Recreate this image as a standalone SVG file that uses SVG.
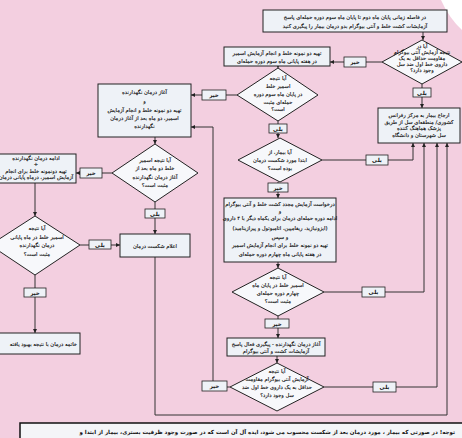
<svg xmlns="http://www.w3.org/2000/svg" width="462" height="438" viewBox="0 0 462 438">
<style>
.box{fill:#eef2f7;stroke:#222;stroke-width:1}
.lbl{fill:#eef2f7;stroke:#222;stroke-width:0.8}
.dia{fill:#f7f8fb;stroke:#222;stroke-width:1}
.t{font-family:"DejaVu Sans",sans-serif;font-size:5.2px;text-anchor:middle;fill:#111;stroke:#111;stroke-width:0.15;direction:rtl}
.tl{font-family:"DejaVu Sans",sans-serif;font-size:5.5px;font-weight:bold;text-anchor:middle;fill:#111;direction:rtl}
.conn{fill:none;stroke:#333;stroke-width:1}
</style>
<defs>
<marker id="ah" viewBox="0 0 6 6" refX="6" refY="3" markerWidth="4" markerHeight="4" orient="auto"><path d="M0,0L6,3L0,6z" fill="#222"/></marker>
</defs>
<rect x="0" y="0" width="462" height="438" fill="#f3cfe0"/>
<path d="M441,0 Q449,18 462,30 L462,0 Z" fill="#ffffff"/>

<g id="connectors" class="conn" marker-end="url(#ah)">
<path d="M423,32 V40"/>
<path d="M382,62 H330"/>
<path d="M422,84 V108"/>
<path d="M278,66 V68"/>
<path d="M237,95 H191"/>
<path d="M278,121 V138"/>
<path d="M322,160 H413 V143"/>
<path d="M278,182 V198"/>
<path d="M278,262 V268"/>
<path d="M324,292 H424 V143"/>
<path d="M278,316 V338"/>
<path d="M277,356 V363"/>
<path d="M324,387 H437 V143"/>
<path d="M230,387 H213 V127 H191"/>
<path d="M155,137 V144"/>
<path d="M112,173 H76"/>
<path d="M155,202 V234"/>
<path d="M35,183 V216"/>
<path d="M80,245 H120"/>
<path d="M35,275 V333"/>
<path d="M155,257 V415 H447 V143"/>
</g>

<g id="n_top">
<rect class="box" x="263" y="10" width="184" height="22"/>
<text class="t" x="355" y="19" font-size="5.8">در فاصله زمانی پایان ماه دوم تا پایان ماه سوم دوره حمله‌ای پاسخ</text>
<text class="t" x="355" y="28" font-size="5.8">آزمایشات کشت خلط و آنتی بیوگرام بدو درمان بیمار را پیگیری کنید</text>
</g>

<g id="n_d1">
<polygon class="dia" points="422,40 462,62 422,84 382,62"/>
<text class="t" x="422" y="48" font-size="4.6">آیا در</text>
<text class="t" x="422" y="54" font-size="4.6">نتیجه آزمایش آنتی بیوگرام</text>
<text class="t" x="422" y="60" font-size="4.6">مقاومت حداقل به یک</text>
<text class="t" x="422" y="66" font-size="4.6">داروی خط اول ضد سل</text>
<text class="t" x="422" y="72" font-size="4.6">وجود دارد؟</text>
</g>

<g id="n_b2">
<rect class="box" x="224" y="47" width="106" height="19"/>
<text class="t" x="277" y="55">تهیه دو نمونه خلط و انجام آزمایش اسمیر</text>
<text class="t" x="277" y="62.5">در هفته پایانی ماه سوم دوره حمله‌ای</text>
</g>

<g id="n_d2">
<polygon class="dia" points="278,68 318,95 278,121 237,95"/>
<text class="t" x="278" y="80">آیا نتیجه</text>
<text class="t" x="278" y="88">اسمیر خلط</text>
<text class="t" x="278" y="96">در پایان ماه سوم دوره</text>
<text class="t" x="278" y="104">حمله‌ای مثبت</text>
<text class="t" x="278" y="111">است؟</text>
</g>

<g id="n_b3">
<rect class="box" x="98" y="84" width="93" height="53"/>
<text class="t" x="144.5" y="94" font-size="5.5">آغاز درمان نگهدارنده</text>
<text class="t" x="144.5" y="103" font-size="5.5">و</text>
<text class="t" x="144.5" y="112" font-size="5.5">تهیه دو نمونه خلط و انجام آزمایش</text>
<text class="t" x="144.5" y="120" font-size="5.5">اسمیر، دو ماه بعد از آغاز درمان</text>
<text class="t" x="144.5" y="128" font-size="5.5">نگهدارنده</text>
</g>

<g id="n_d3">
<polygon class="dia" points="155,144 198,173 155,202 112,173"/>
<text class="t" x="155" y="162">آیا نتیجه اسمیر</text>
<text class="t" x="155" y="170">خلط دو ماه بعد از</text>
<text class="t" x="155" y="179">آغاز درمان نگهدارنده</text>
<text class="t" x="155" y="187">مثبت است؟</text>
</g>

<g id="n_b4">
<rect class="box" x="-10" y="154" width="86" height="29"/>
<text class="t" x="36" y="160" font-size="4.8">ادامه درمان نگهدارنده</text>
<text class="t" x="36" y="166" font-size="4.8">+</text>
<text class="t" x="36" y="172.5" font-size="4.8">تهیه دونمونه خلط برای انجام</text>
<text class="t" x="36" y="179" font-size="4.8">آزمایش اسمیر، درماه پایانی درمان</text>
</g>

<g id="n_d7">
<polygon class="dia" points="35,216 80,245 35,275 -10,245"/>
<text class="t" x="37" y="230">آیا نتیجه</text>
<text class="t" x="37" y="239">اسمیر خلط در ماه پایانی</text>
<text class="t" x="37" y="247">درمان نگهدارنده</text>
<text class="t" x="37" y="256">مثبت است؟</text>
</g>

<g id="n_b5">
<rect class="box" x="120" y="234" width="70" height="23"/>
<text class="t" x="155" y="248" font-size="5.6">اعلام شکست درمان</text>
</g>

<g id="n_b8">
<rect class="box" x="-10" y="333" width="90" height="21"/>
<text class="t" x="77" y="346" font-size="5.8" style="text-anchor:start">خاتمه درمان با نتیجه بهبود یافته</text>
</g>

<g id="n_b6">
<rect class="box" x="378" y="108" width="82" height="35"/>
<text class="t" x="419" y="117">ارجاع بیمار به مرکز رفرانس</text>
<text class="t" x="419" y="123.5">کشوری/ منطقه‌ای سل از طریق</text>
<text class="t" x="419" y="130">پزشک هماهنگ کننده</text>
<text class="t" x="419" y="136.5">سل شهرستان و دانشگاه</text>
</g>

<g id="n_d4">
<polygon class="dia" points="280,138 322,160 280,182 238,160"/>
<text class="t" x="280" y="154">آیا بیمار، از</text>
<text class="t" x="280" y="162">ابتدا مورد شکست درمان</text>
<text class="t" x="280" y="170">بوده است؟</text>
</g>

<g id="n_b7">
<rect class="box" x="224" y="198" width="112" height="64"/>
<text class="t" x="280" y="206" font-size="4.8">درخواست آزمایش مجدد کشت خلط و آنتی بیوگرام</text>
<text class="t" x="280" y="213" font-size="4.8">و</text>
<text class="t" x="280" y="220" font-size="4.8">ادامه دوره حمله‌ای درمان برای یکماه دیگر با ۴ داروی</text>
<text class="t" x="280" y="230" font-size="4.8">(ایزونیازید، ریفامپین، اتامبوتول و پیرازینامید)</text>
<text class="t" x="280" y="239" font-size="4.8">و سپس</text>
<text class="t" x="280" y="247" font-size="4.8">تهیه دو نمونه خلط برای انجام آزمایش اسمیر</text>
<text class="t" x="280" y="256" font-size="4.8">در هفته پایانی ماه چهارم دوره حمله‌ای</text>
</g>

<g id="n_d5">
<polygon class="dia" points="278,268 324,292 278,316 232,292"/>
<text class="t" x="278" y="279">آیا نتیجه</text>
<text class="t" x="278" y="287">اسمیر خلط در پایان ماه</text>
<text class="t" x="278" y="295">چهارم دوره حمله‌ای</text>
<text class="t" x="278" y="303">مثبت است؟</text>
</g>

<g id="n_b9">
<rect class="box" x="227" y="338" width="98" height="18"/>
<text class="t" x="276" y="345.5">آغاز درمان نگهدارنده - پیگیری فعال پاسخ</text>
<text class="t" x="276" y="353">آزمایشات کشت و آنتی بیوگرام</text>
</g>

<g id="n_d6">
<polygon class="dia" points="277,363 324,387 277,411 230,387"/>
<text class="t" x="277" y="373">آیا نتیجه</text>
<text class="t" x="277" y="381">آزمایش آنتی بیوگرام مقاومت</text>
<text class="t" x="277" y="389">حداقل به یک داروی خط اول ضد</text>
<text class="t" x="277" y="397">سل وجود دارد؟</text>
</g>

<g id="labels">
<rect class="lbl" x="344" y="57" width="22" height="10"/><text class="tl" x="355" y="64">خیر</text>
<rect class="lbl" x="413" y="88" width="18" height="9"/><text class="tl" x="422" y="94.5">بلی</text>
<rect class="lbl" x="202" y="90" width="24" height="10"/><text class="tl" x="214" y="97">خیر</text>
<rect class="lbl" x="269" y="124" width="18" height="9"/><text class="tl" x="278" y="130.5">بلی</text>
<rect class="lbl" x="366" y="155" width="22" height="10"/><text class="tl" x="377" y="162">بلی</text>
<rect class="lbl" x="268" y="183" width="20" height="9"/><text class="tl" x="278" y="189.5">خیر</text>
<rect class="lbl" x="362" y="287" width="23" height="10"/><text class="tl" x="373.5" y="294">بلی</text>
<rect class="lbl" x="265" y="319" width="24" height="9"/><text class="tl" x="277" y="325.5">خیر</text>
<rect class="lbl" x="373" y="382" width="23" height="10"/><text class="tl" x="384.5" y="389">بلی</text>
<rect class="lbl" x="202" y="381" width="25" height="10"/><text class="tl" x="214.5" y="388">خیر</text>
<rect class="lbl" x="80" y="168" width="22" height="10"/><text class="tl" x="91" y="175">خیر</text>
<rect class="lbl" x="145" y="209" width="20" height="9"/><text class="tl" x="155" y="215.5">بلی</text>
<rect class="lbl" x="89" y="240" width="22" height="9"/><text class="tl" x="100" y="246.5">بلی</text>
<rect class="lbl" x="24" y="288" width="22" height="9"/><text class="tl" x="35" y="294.5">خیر</text>
</g>

<g id="n_note">
<rect x="20" y="423" width="450" height="22" fill="#f4f5f8" stroke="#111" stroke-width="1.5"/>
<text class="tl" x="455" y="434" font-size="5.8" style="text-anchor:start">توجه! در صورتی که بیمار ، مورد  درمان بعد از شکست  محسوب می شود، ایده آل آن است که در صورت وجود ظرفیت بستری، بیمار از ابتدا و</text>
</g>
</svg>
